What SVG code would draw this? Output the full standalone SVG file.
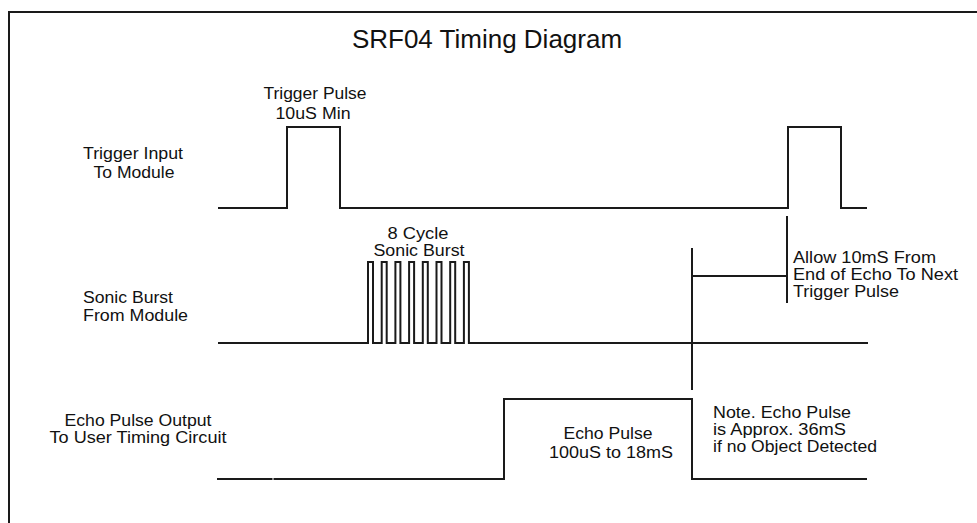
<svg xmlns="http://www.w3.org/2000/svg" width="977" height="523" viewBox="0 0 977 523">
<style>
.bg{fill:#ffffff}
.frame{fill:none;stroke:#1a1a1a;stroke-width:2}
.wave{fill:none;stroke:#1a1a1a;stroke-width:2;stroke-linecap:butt;stroke-linejoin:miter}
.t{font-family:"Liberation Sans",Arial,sans-serif;font-size:16px;fill:#111}
.c{text-anchor:middle}
.title{font-family:"Liberation Sans",Arial,sans-serif;font-size:26px;fill:#111;text-anchor:middle}
</style>
<rect class="bg" x="0" y="0" width="977" height="523"/>
<path class="frame" d="M9,524 V12 H978"/>
<text id="title" class="title" x="487" y="48">SRF04 Timing Diagram</text>

<g id="label-trigger-input">
<text class="t c" x="133" y="159" textLength="100" lengthAdjust="spacingAndGlyphs">Trigger Input</text>
<text class="t c" x="134" y="178" textLength="81" lengthAdjust="spacingAndGlyphs">To Module</text>
</g>
<g id="label-sonic-burst">
<text class="t" x="83" y="303" textLength="90" lengthAdjust="spacingAndGlyphs">Sonic Burst</text>
<text class="t" x="83" y="321" textLength="105" lengthAdjust="spacingAndGlyphs">From Module</text>
</g>
<g id="label-echo-output">
<text class="t c" x="138" y="426" textLength="147" lengthAdjust="spacingAndGlyphs">Echo Pulse Output</text>
<text class="t c" x="138" y="443" textLength="177" lengthAdjust="spacingAndGlyphs">To User Timing Circuit</text>
</g>
<g id="label-trigger-pulse">
<text class="t c" x="315" y="99" textLength="103" lengthAdjust="spacingAndGlyphs">Trigger Pulse</text>
<text class="t c" x="313" y="119" textLength="75" lengthAdjust="spacingAndGlyphs">10uS Min</text>
</g>
<g id="label-burst">
<text class="t c" x="418" y="239" textLength="61" lengthAdjust="spacingAndGlyphs">8 Cycle</text>
<text class="t c" x="419" y="256" textLength="91" lengthAdjust="spacingAndGlyphs">Sonic Burst</text>
</g>
<g id="label-allow">
<text class="t" x="793" y="263" textLength="143" lengthAdjust="spacingAndGlyphs">Allow 10mS From</text>
<text class="t" x="793" y="280" textLength="165" lengthAdjust="spacingAndGlyphs">End of Echo To Next</text>
<text class="t" x="793" y="297" textLength="106" lengthAdjust="spacingAndGlyphs">Trigger Pulse</text>
</g>
<g id="label-echo-pulse">
<text class="t c" x="608" y="439" textLength="89" lengthAdjust="spacingAndGlyphs">Echo Pulse</text>
<text class="t c" x="611" y="458" textLength="124" lengthAdjust="spacingAndGlyphs">100uS to 18mS</text>
</g>
<g id="label-note">
<text class="t" x="713" y="418" textLength="138" lengthAdjust="spacingAndGlyphs">Note. Echo Pulse</text>
<text class="t" x="713" y="435" textLength="133" lengthAdjust="spacingAndGlyphs">is Approx. 36mS</text>
<text class="t" x="713" y="452" textLength="164" lengthAdjust="spacingAndGlyphs">if no Object Detected</text>
</g>

<g id="connectors">
<path id="trigger-wave" class="wave" d="M218,208 H287 V127 H340 V208 H788 V127 H841 V208 H867"/>
<path id="burst-wave" class="wave" d="M218,343 H368 V262 H373 V343 H381.7 V262 H386.7 V343 H395.4 V262 H400.4 V343 H409.1 V262 H414.1 V343 H422.8 V262 H427.8 V343 H436.5 V262 H441.5 V343 H450.2 V262 H455.2 V343 H463.9 V262 H468.9 V343 H868"/>
<path id="echo-wave" class="wave" d="M217,479 H272.5 M273.5,479 H504 V399 H692 V479 H867"/>
<path id="interval-marker" class="wave" d="M692,248 V390 M692,276 H787 M787,216 V303"/>
</g>
</svg>
